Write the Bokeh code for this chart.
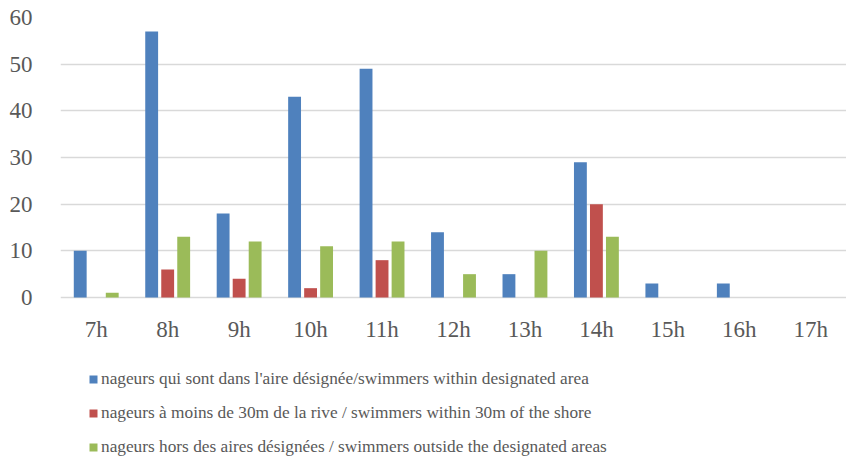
from bokeh.plotting import figure
from bokeh.models import FactorRange, Range1d, Legend, LegendItem, FixedTicker
from bokeh.transform import dodge
from bokeh.embed import file_html
from bokeh.resources import INLINE
from bokeh.models import ColumnDataSource

hours = ["7h", "8h", "9h", "10h", "11h", "12h", "13h", "14h", "15h", "16h", "17h"]
within_area = [10, 57, 18, 43, 49, 14, 5, 29, 3, 3, 0]
within_30m = [0, 6, 4, 2, 8, 0, 0, 20, 0, 0, 0]
outside_area = [1, 13, 12, 11, 12, 5, 10, 13, 0, 0, 0]
y_ticks = [0, 10, 20, 30, 40, 50, 60]
series_names = [
    "nageurs qui sont dans l'aire désignée/swimmers within designated area",
    "nageurs à moins de 30m de la rive / swimmers within 30m of the shore",
    "nageurs hors des aires désignées / swimmers outside the designated areas",
]
colors = ["#4F81BD", "#C0504D", "#9BBB59"]

src = ColumnDataSource(dict(h=hours, a=within_area, b=within_30m, c=outside_area))

FONT = "Liberation Serif"
W, H = 846, 474
TOP, LEFT = 17, 60
AXIS_PX = 280  # pixel height from 0 to 60
frame_h = H - TOP
y_max = y_ticks[-1]
y_min = y_max - y_max * frame_h / AXIS_PX

p = figure(width=W, height=H, x_range=FactorRange(factors=hours), y_range=Range1d(y_min, y_max),
           output_backend="svg", toolbar_location=None,
           min_border_left=LEFT, min_border_right=0, min_border_top=TOP, min_border_bottom=0)
p.outline_line_color = None
p.xgrid.grid_line_color = None
p.ygrid.grid_line_color = "#D9D9D9"
p.ygrid.grid_line_width = 1.5
p.yaxis.ticker = FixedTicker(ticks=y_ticks)
p.xaxis.fixed_location = 0
for ax in (p.xaxis[0], p.yaxis[0]):
    ax.axis_line_color = None
    ax.major_tick_line_color = None
    ax.minor_tick_line_color = None
    ax.major_label_text_font = FONT
    ax.major_label_text_font_size = "23px"
    ax.major_label_text_color = "#595959"
p.yaxis.major_label_standoff = 22
p.xaxis.major_label_standoff = 13

offsets = [-0.224, 0.0, 0.224]
renderers = []
for col, off, c in zip(["a", "b", "c"], offsets, colors):
    r = p.vbar(x=dodge("h", off, range=p.x_range), top=col, width=0.18, source=src,
               fill_color=c, line_color=None)
    renderers.append(r)

legend = Legend(items=[LegendItem(label=n, renderers=[r]) for n, r in zip(series_names, renderers)],
                location=(28, 16), orientation="vertical",
                label_text_font=FONT, label_text_font_size="17.3px", label_text_color="#595959",
                glyph_width=10, glyph_height=10, label_standoff=3, spacing=12, label_height=22,
                background_fill_alpha=0, border_line_color=None, padding=0, margin=0)
p.add_layout(legend, "center")

open("out.html", "w").write(file_html(p, INLINE))
